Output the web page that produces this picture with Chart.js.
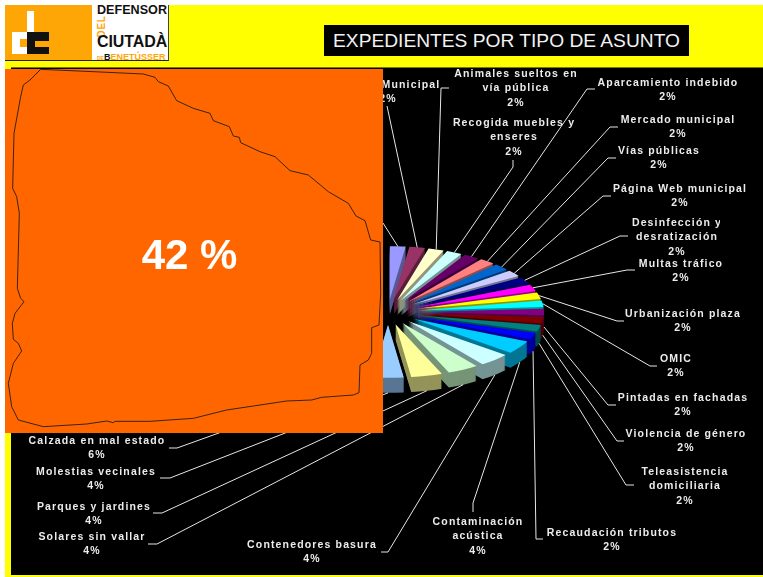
<!DOCTYPE html>
<html lang="es">
<head>
<meta charset="utf-8">
<title>Expedientes por tipo de asunto</title>
<script src="https://cdn.jsdelivr.net/npm/chart.js@4"></script>
<style>
html,body{margin:0;padding:0;background:#fff;width:763px;height:577px;overflow:hidden;font-family:"Liberation Sans",Arial,sans-serif}
.abs{position:absolute}
#yellow{left:5px;top:5px;width:758px;height:572px;background:#ffff00}
#plot{left:11px;top:68px;width:752px;height:507px;background:#000;box-shadow:0 -1px 0 #7a7a00}
#wrap{left:0;top:0;width:763px;height:577px}
#title{left:324px;top:25px;width:365px;height:31px;background:#000;color:#f2f2f2;font-size:19.2px;line-height:31px;text-align:center;white-space:nowrap}
#panel{left:5px;top:69px;width:378px;height:364px;background:#ff6600}
#pct{left:5px;top:69px;width:369px;height:370px;text-align:center;color:#fff;font-weight:bold;font-size:42px;line-height:372px}
#logo{left:5px;top:5px;width:163px;height:55px;background:#fff;border-bottom:1px solid #222;border-right:1px solid #444;overflow:hidden}
#logoL{left:0;top:0;width:87px;height:55px;background:#ffa607}
.lt{font-weight:bold;color:#111;white-space:nowrap}
.lo{font-weight:bold;color:#ffa607;white-space:nowrap}
</style>
</head>
<body>
<div class="abs" id="yellow"></div>
<div class="abs" id="plot"></div>
<div class="abs" id="wrap"><canvas id="c" width="763" height="577"></canvas></div>
<div class="abs" id="title">EXPEDIENTES POR TIPO DE ASUNTO</div>
<div class="abs" id="logo">
  <div class="abs" id="logoL"></div>
  <div class="abs" style="left:7px;top:27px;width:15px;height:22px;background:#fff"></div>
  <div class="abs" style="left:15px;top:34px;width:7px;height:8px;background:#ffa607"></div>
  <div class="abs" style="left:22px;top:6px;width:7px;height:21px;background:#fff"></div>
  <div class="abs" style="left:22px;top:27px;width:22px;height:22px;background:#111"></div>
  <div class="abs" style="left:30px;top:36px;width:14px;height:6px;background:#ffa607"></div>
  <div class="abs lt" style="left:92px;top:-2px;font-size:12.6px;letter-spacing:0">DEFENSOR</div>
  <div class="abs lo" style="left:81px;top:16px;font-size:10px;transform:rotate(-90deg);letter-spacing:.6px;width:30px;text-align:center">DEL</div>
  <div class="abs lt" style="left:92px;top:28px;font-size:16px;letter-spacing:-.1px">CIUTADÀ</div>
  <div class="abs lo" style="left:92px;top:47px;font-size:9px;letter-spacing:0"><span style="font-size:5px">DE</span><span style="color:#111">B</span>ENETÚSSER</div>
</div>
<div class="abs" id="panel"></div>
<svg class="abs" style="left:0;top:60px;overflow:visible" width="390" height="380" viewBox="0 0 1170 1140">
  <polygon fill="none" stroke="#1a1a1a" stroke-width="2.6" stroke-linejoin="round" points="122,28 280,35 430,42 465,52 475,65 505,78 530,122 580,145 630,160 640,182 688,200 700,228 718,232 722,248 780,275 825,290 870,332 925,345 985,395 1045,430 1068,468 1095,482 1112,540 1140,546 1142,700 1137,795 1115,803 1115,880 1105,900 1080,915 1077,998 1060,1005 965,1012 935,1020 860,1023 780,1035 680,1050 580,1075 450,1084 345,1084 340,1088 320,1083 260,1092 130,1100 55,1080 35,1040 25,970 40,910 65,873 55,850 40,838 37,790 45,760 72,725 62,715 52,685 58,460 50,410 38,385 42,220 62,110 70,75 90,60"/>
</svg>
<div class="abs" id="pct">42 %</div>
<script>
// ---- data ----
const categories = ["Otros asuntos","Policía Municipal","Animales sueltos en vía pública","Recogida muebles y enseres","Aparcamiento indebido","Mercado municipal","Vías públicas","Página Web municipal","Desinfección y desratización","Multas tráfico","Urbanización plaza","OMIC","Pintadas en fachadas","Violencia de género","Teleasistencia domiciliaria","Recaudación tributos","Contaminación acústica","Contenedores basura","Solares sin vallar","Parques y jardines","Molestias vecinales","Calzada en mal estado","Resto de asuntos"];
const percentages = [2,2,2,2,2,2,2,2,2,2,2,2,2,2,2,2,4,4,4,4,4,6,42];
const sliceColors = ["#9999ff","#993366","#ffffcc","#ccffff","#660066","#ff8080","#0066cc","#ccccff","#000080","#ff00ff","#ffff00","#00ffff","#800080","#800000","#008080","#0000ff","#00ccff","#ccffff","#ccffcc","#ffff99","#99ccff","#ff99cc","#cc99ff"];

// ---- annotation layout: text lines, text position, leader elbow points ----
const labelLines = [
  null,
  ["Policía Municipal","2%"],
  ["Animales sueltos en","vía pública","2%"],
  ["Recogida muebles y","enseres","2%"],
  ["Aparcamiento indebido","2%"],
  ["Mercado municipal","2%"],
  ["Vías públicas","2%"],
  ["Página Web municipal","2%"],
  ["Desinfección y","desratización","2%"],
  ["Multas tráfico","2%"],
  ["Urbanización plaza","2%"],
  ["OMIC","2%"],
  ["Pintadas en fachadas","2%"],
  ["Violencia de género","2%"],
  ["Teleasistencia","domiciliaria","2%"],
  ["Recaudación tributos","2%"],
  ["Contaminación","acústica","4%"],
  ["Contenedores basura","4%"],
  ["Solares sin vallar","4%"],
  ["Parques y jardines","4%"],
  ["Molestias vecinales","4%"],
  ["Calzada en mal estado","6%"],
  null
];
const labelAt = [null,[388,85],[516,74],[514,123],[668,83],[678,120],[659,151],[680,189],[677,223],[681,264],[683,314],[676,359],[683,398],[686,434],[685,472],[612,533],[478,522],[312,545],[92,537],[94,507],[96,472],[97,441],null];
const labelClip = {3:576,8:720,16:524};
const leaders = [
  [[383,223]],
  [[387,106]],
  [[441,88],[449,88]],
  [[513,167],[513,160]],
  [[587,89],[595,89]],
  [[610,127],[618,127]],
  [[608,158],[616,158]],
  [[603,196],[611,196]],
  [[620,236],[628,236]],
  [[627,270],[635,270]],
  [[617,321],[624,321]],
  [[650,366],[657,366]],
  [[608,405],[616,405]],
  [[617,441],[624,441]],
  [[626,485],[634,485]],
  [[536,539],[543,539]],
  [[473,503],[473,512]],
  [[388,552],[381,552]],
  [[157,544],[148,544]],
  [[162,513],[153,513]],
  [[170,478],[160,478]],
  [[177,448],[169,448]],
  null
];

const TILT = 0.422;      // ellipse height / width
const DEPTH = 15;        // wall height in px
const BASE_R = 126;      // arc radius given to the library
const EXPLODE = 30;      // how far each slice is pulled out of the pie

function shade(hex,k){
  const n=parseInt(hex.slice(1),16);
  return "rgb("+[(n>>16)&255,(n>>8)&255,n&255].map(c=>Math.round(c*k)).join(",")+")";
}
const mid = arc => (arc.startAngle+arc.endAngle)/2;
// place one slice: lifted by d px, squashed into the ellipse, pulled out along its mid angle
function place(ctx,arc,d){
  const a=mid(arc);
  ctx.translate(arc.x,arc.y+d);
  ctx.scale(1,TILT);
  ctx.translate(Math.cos(a)*EXPLODE,Math.sin(a)*EXPLODE);
  ctx.translate(-arc.x,-arc.y);
}
const pie3d = {
  id:"pie3d",
  beforeDatasetDraw(chart){
    const ctx=chart.ctx, arcs=chart.getDatasetMeta(0).data;
    const order=arcs.map((a,i)=>i).sort((i,j)=>Math.sin(mid(arcs[i]))-Math.sin(mid(arcs[j])));
    for(const i of order){
      const arc=arcs[i], base=arc.options;
      const col=shade(sliceColors[i],0.58);
      arc.options=Object.assign(Object.create(base),{backgroundColor:col,borderColor:col});
      for(let d=DEPTH;d>=1;d--){
        ctx.save(); place(ctx,arc,d); arc.draw(ctx); ctx.restore();
      }
      arc.options=base;
    }
    for(const i of order){
      ctx.save(); place(ctx,arcs[i],0); arcs[i].draw(ctx); ctx.restore();
    }
    return false;
  },
  afterDatasetsDraw(chart){
    const ctx=chart.ctx, arcs=chart.getDatasetMeta(0).data;
    ctx.save();
    ctx.strokeStyle="#e6e6e6"; ctx.lineWidth=1;
    arcs.forEach((arc,i)=>{
      if(!leaders[i]) return;
      const a=mid(arc), r=arc.outerRadius+EXPLODE;
      const ax=arc.x+Math.cos(a)*r;
      const ay=arc.y+Math.sin(a)*r*TILT+(Math.sin(a)>=-0.01?DEPTH:0);
      ctx.beginPath(); ctx.moveTo(ax,ay);
      leaders[i].forEach(p=>ctx.lineTo(p[0],p[1]));
      ctx.stroke();
    });
    ctx.fillStyle="#ececec";
    ctx.font='bold 10.5px "Liberation Sans"';
    ctx.letterSpacing="1.15px";
    ctx.textAlign="center"; ctx.textBaseline="middle";
    labelLines.forEach((lines,i)=>{
      if(!lines) return;
      const [x,y]=labelAt[i];
      ctx.save();
      if(labelClip[i]){ ctx.beginPath(); ctx.rect(0,0,labelClip[i],577); ctx.clip(); }
      lines.forEach((t,k)=>ctx.fillText(t,x,y+k*14.4));
      ctx.restore();
    });
    ctx.restore();
  }
};
new Chart(document.getElementById("c"),{
  type:"pie",
  data:{labels:categories,datasets:[{data:percentages,backgroundColor:sliceColors,borderWidth:0}]},
  plugins:[pie3d],
  options:{
    responsive:false,animation:false,events:[],radius:BASE_R,
    layout:{padding:{left:232,right:219,top:156,bottom:109}},
    plugins:{legend:{display:false},tooltip:{enabled:false},title:{display:false}}
  }
});
</script>
</body>
</html>
